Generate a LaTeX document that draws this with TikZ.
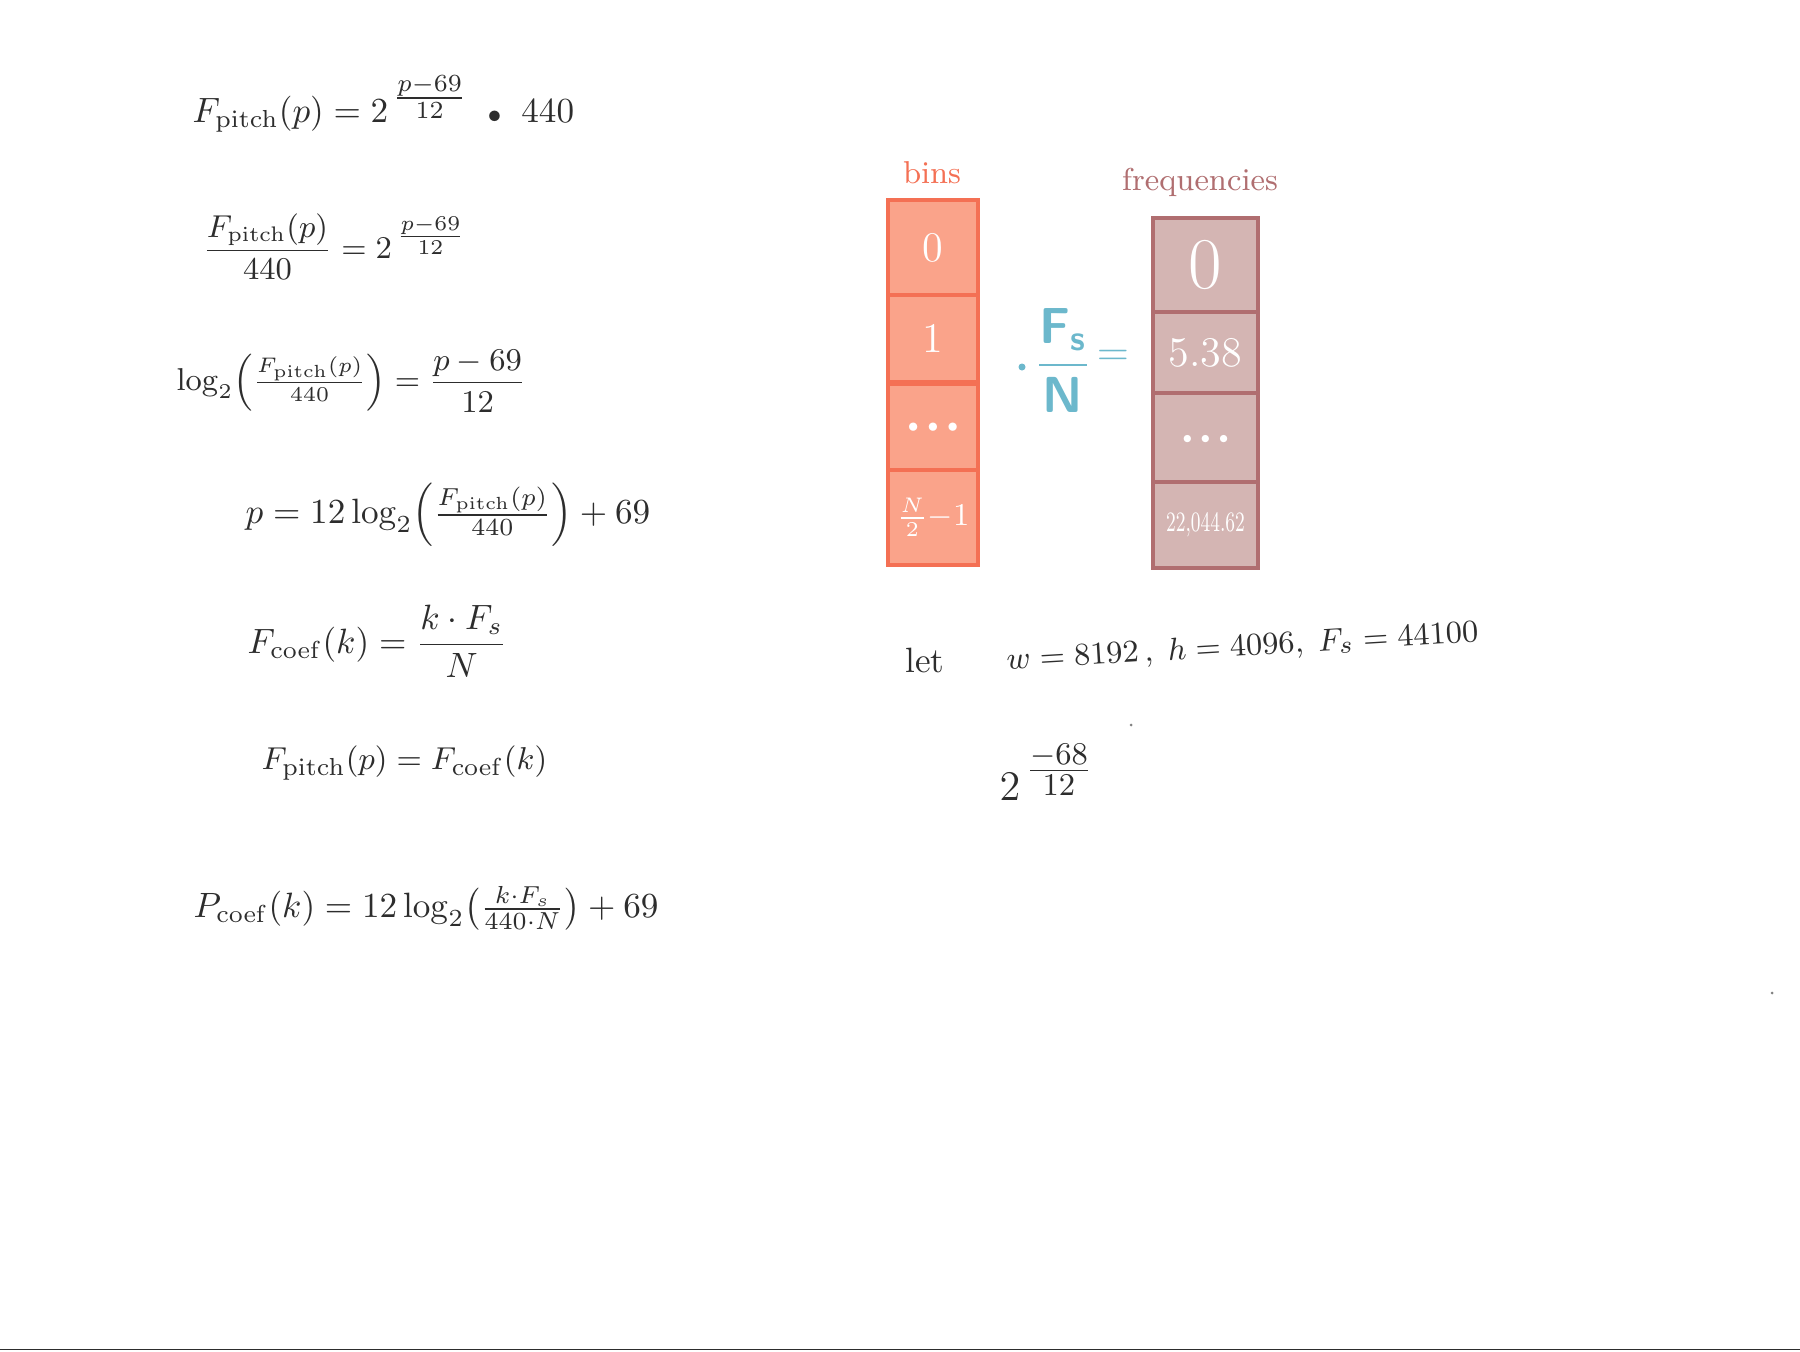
\documentclass[tikz,border=0pt]{standalone}
\usepackage{amsmath}
\usepackage{graphicx}
\usepackage{tikz}

\definecolor{binedge}{RGB}{244,112,84}
\definecolor{binfill}{RGB}{250,163,138}
\definecolor{freqedge}{RGB}{176,110,112}
\definecolor{freqfill}{RGB}{212,181,179}
\definecolor{fsblue}{RGB}{108,184,204}
\definecolor{pencil}{RGB}{45,45,45}

\begin{document}
\begin{tikzpicture}[x=0.01cm,y=-0.01cm,
    eqn/.style={anchor=west,inner sep=0pt,text=pencil,font=\fontsize{10}{12}\selectfont},
    bincell/.style={draw=binedge,fill=binfill,line width=1.2pt,minimum width=0.9cm,inner sep=0pt,text=white,font=\large},
    freqcell/.style={draw=freqedge,fill=freqfill,line width=1.2pt,minimum width=1.05cm,inner sep=0pt,text=white,font=\large}]
  \useasboundingbox (0,0) rectangle (1800,1351);
  \fill[white] (0,0) rectangle (1800,1351);

  % derivation on the left
  \node[eqn] (pitch) at (192,104) {$F_{\mathrm{pitch}}(p) = 2^{\,\tfrac{p-69}{12}}\;\;{\scriptstyle\bullet}\;\;440$};
  \node[eqn,font=\fontsize{9}{11}\selectfont] (ratio) at (202,247) {$\dfrac{F_{\mathrm{pitch}}(p)}{440} = 2^{\,\tfrac{p-69}{12}}$};
  \node[eqn,font=\fontsize{9}{11}\selectfont] (logeq) at (176,381) {$\log_2\!\left(\frac{F_{\mathrm{pitch}}(p)}{440}\right) = \dfrac{p-69}{12}$};
  \node[eqn] (pitchof) at (245,515) {$p = 12\log_2\!\left(\frac{F_{\mathrm{pitch}}(p)}{440}\right) + 69$};
  \node[eqn] (fcoef) at (247,641) {$F_{\mathrm{coef}}(k) = \dfrac{k\cdot F_s}{N}$};
  \node[eqn,font=\fontsize{9.5}{11}\selectfont] (match) at (261,763) {$F_{\mathrm{pitch}}(p) = F_{\mathrm{coef}}(k)$};
  \node[eqn] (pcoef) at (193,908) {$P_{\mathrm{coef}}(k) = 12\log_2\!\left(\frac{k\cdot F_s}{440\cdot N}\right) + 69$};

  % bins column
  \node[text=binedge,font=\small] (binslabel) at (932,173) {bins};
  \node[bincell,minimum height=0.95cm] (bin0) at (933,247.5) {0};
  \node[bincell,minimum height=0.87cm] (bin1) at (933,338.5) {1};
  \node[bincell,minimum height=0.88cm,font=\footnotesize] (bin2) at (933,428) {\textbullet\kern-1pt\textbullet\kern-1pt\textbullet};
  \node[bincell,minimum height=0.95cm,font=\small] (bin3) at (933,517.5) {$\frac{N}{2}{-}1$};

  % times Fs/N
  \node[circle,fill=fsblue,inner sep=0pt,minimum size=0.07cm] (times) at (1022,367) {};
  \node[text=fsblue,font=\Large] (fsn) at (1063,360) {$\dfrac{\textsf{\textbf{F}}_{\textsf{\textbf{s}}}}{\textsf{\textbf{N}}}$};
  \node[text=fsblue,font=\large] (equals) at (1113,358) {$=$};

  % frequencies column
  \node[text=freqedge,font=\small] (freqlabel) at (1200,182) {frequencies};
  \node[freqcell,minimum height=0.94cm,font=\huge] (freq0) at (1205.5,265) {0};
  \node[freqcell,minimum height=0.81cm] (freq1) at (1205.5,352.5) {5.38};
  \node[freqcell,minimum height=0.89cm,font=\scriptsize] (freq2) at (1205.5,437.5) {\raisebox{-4pt}{\textbullet\kern-1pt\textbullet\kern-1pt\textbullet}};
  \node[freqcell,minimum height=0.86cm,font=\footnotesize] (freq3) at (1205.5,525) {\scalebox{0.65}[1]{22,044.62}};

  % parameters
  \node[eqn,anchor=center] (let) at (925,660) {let};
  \node[eqn,rotate=3.4,font=\fontsize{9.5}{12}\selectfont] (params) at (1006,662) {$w = 8192\,,\; h = 4096,\; F_s = 44100$};
  \node[eqn,font=\fontsize{13}{16}\selectfont] (twopow) at (999,772) {$2^{\,\tfrac{-68}{12}}$};

  % stray marks and bottom edge
  \fill[pencil!60] (1131,725) circle (1.5);
  \fill[pencil!60] (1772,993) circle (1.5);
  \draw[pencil,line width=0.45pt] (0,1349.5) -- (1800,1349.5);
\end{tikzpicture}
\end{document}
